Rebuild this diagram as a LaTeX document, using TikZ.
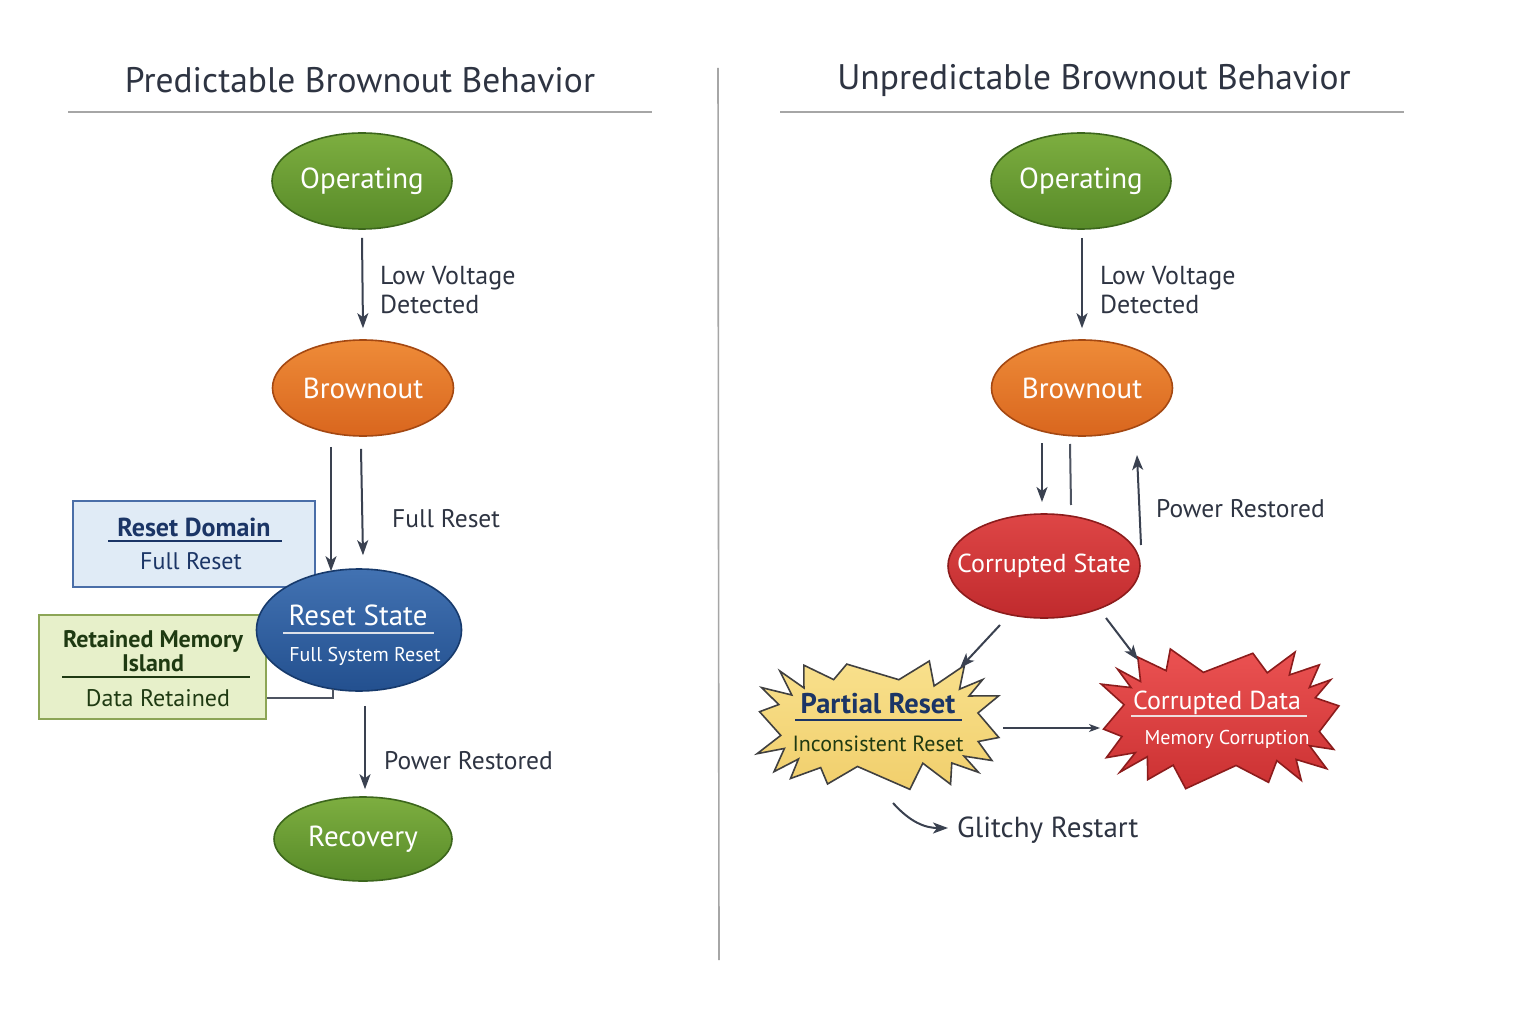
\documentclass[tikz,border=0pt]{standalone}
\usepackage{fontspec}
\setmainfont{PT Sans}
\usetikzlibrary{shapes.geometric,arrows.meta,calc}
\definecolor{ink}{HTML}{2E3442}
\definecolor{arrowc}{HTML}{3A4150}
\definecolor{gtop}{HTML}{7DAE40}\definecolor{gbot}{HTML}{578A28}\definecolor{gbrd}{HTML}{3C661C}
\definecolor{otop}{HTML}{EE8B38}\definecolor{obot}{HTML}{D9661E}\definecolor{obrd}{HTML}{A44812}
\definecolor{btop}{HTML}{4272B2}\definecolor{bbot}{HTML}{23508F}\definecolor{bbrd}{HTML}{173A6C}
\definecolor{rtop}{HTML}{DE4646}\definecolor{rbot}{HTML}{C02A2D}\definecolor{rbrd}{HTML}{8C1C1C}
\definecolor{ytop}{HTML}{F8E08C}\definecolor{ybot}{HTML}{F1CF6C}
\definecolor{cdtop}{HTML}{EB5252}\definecolor{cdbot}{HTML}{CB3132}
\definecolor{rdfill}{HTML}{E0EBF6}\definecolor{rdbrd}{HTML}{4A6EA8}
\definecolor{rmfill}{HTML}{E7F0CA}\definecolor{rmbrd}{HTML}{8CA556}
\definecolor{navy}{HTML}{1B3566}\definecolor{dgreen}{HTML}{1F3A12}
\begin{document}
\begin{tikzpicture}[x=1pt,y=-1pt,
  title/.style={text=ink,font=\fontsize{35.5}{38}\selectfont},
  rulel/.style={draw=black!35,line width=1.4pt},
  st/.style={ellipse,inner sep=0pt,line width=1.6pt},
  stt/.style={text=white,font=\fontsize{29}{32}\selectfont,inner sep=0pt},
  stgreen/.style={st,draw=gbrd,top color=gtop,bottom color=gbot},
  storange/.style={st,draw=obrd,top color=otop,bottom color=obot},
  stblue/.style={st,draw=bbrd,top color=btop,bottom color=bbot},
  stred/.style={st,draw=rbrd,top color=rtop,bottom color=rbot},
  lbl/.style={text=ink,font=\fontsize{25.5}{29}\selectfont,align=left,anchor=west,inner sep=0pt},
  arr/.style={draw=arrowc,line width=2pt,-{Stealth[length=15pt,width=11pt,inset=4pt]}},
  thinarr/.style={draw=arrowc,line width=1.3pt,-{Stealth[length=11pt,width=8pt,inset=3pt]}},
  conn/.style={draw=arrowc!90,line width=1.8pt},
  boxn/.style={rectangle,inner sep=0pt,line width=1.8pt},
  anchorell/.style={ellipse,inner sep=0pt},
  burstline/.style={line width=1.6pt,line join=miter},
  inrule/.style={line width=1.4pt},
]
\useasboundingbox[fill=white] (0,0) rectangle (1536,1024);

% ---------- titles and rules ----------
\node[title] (t1) at (360,80) {Predictable Brownout Behavior};
\node[title] (t2) at (1094,80) {Unpredictable Brownout Behavior};
\draw[rulel] (68,112) -- (652,112);
\draw[rulel] (780,112) -- (1404,112);
\draw[draw=black!35,line width=1.6pt] (718,68) -- (719,960);

% ---------- left side ----------
\node[stgreen,minimum width=180pt,minimum height=96pt,label={[stt]center:Operating}] (op1) at (362,181) {};
\node[storange,minimum width=181pt,minimum height=96pt,label={[stt]center:Brownout}] (bo1) at (363,388) {};
\draw[arr] ($(op1.south)+(0,8)$) -- ($(bo1.north)+(0,-11)$);
\node[lbl,font=\fontsize{26}{29}\selectfont] (l1) at (380,290) {Low Voltage\\Detected};

\node[boxn,draw=rdbrd,fill=rdfill,minimum width=242pt,minimum height=86pt] (rd) at (194,544) {};
\node[text=navy,font=\bfseries\fontsize{26}{28}\selectfont] (rdt) at (194,527) {Reset Domain};
\draw[inrule,draw=navy] (108,541) -- (282,541);
\node[text=navy,font=\fontsize{24}{26}\selectfont] (rds) at (191,561) {Full Reset};

\node[boxn,draw=rmbrd,fill=rmfill,minimum width=227pt,minimum height=104pt] (rm) at (152.5,667) {};
\node[text=dgreen,font=\bfseries\fontsize{24}{24}\selectfont,align=center] (rmt) at (153,651) {Retained Memory\\Island};
\draw[inrule,draw=dgreen] (62,677) -- (250,677);
\node[text=dgreen,font=\fontsize{24}{26}\selectfont] (rms) at (158,698) {Data Retained};

\node[stblue,minimum width=205pt,minimum height=122pt] (rs1) at (359,630) {};
\node[text=white,font=\fontsize{29}{32}\selectfont] (rst) at (358,615) {Reset State};
\draw[inrule,draw=white!85!bbrd] (283,633) -- (434,633);
\node[text=white,font=\fontsize{20}{22}\selectfont] (rss) at (365,656) {Full System Reset};

\draw[conn] ($(rm.south east)+(0,-22)$) -| ($(rs1.south)+(-26,-3)$);

\draw[arr] ($(bo1.south)+(-32,10)$) -- ($(rs1.north)+(-28,3)$);
\draw[arr] ($(bo1.south)+(-2,12)$) -- ($(rs1.north)+(4,-13)$);
\node[lbl] (l2) at (392,519) {Full Reset};

\node[stgreen,minimum width=178pt,minimum height=84pt,label={[stt]center:Recovery}] (rc1) at (363,839) {};
\draw[arr] ($(rs1.south)+(6,14)$) -- ($(rc1.north)+(2,-7)$);
\node[lbl] (l3) at (384,761) {Power Restored};

% ---------- right side ----------
\node[stgreen,minimum width=180pt,minimum height=96pt,label={[stt]center:Operating}] (op2) at (1081,181) {};
\node[storange,minimum width=181pt,minimum height=96pt,label={[stt]center:Brownout}] (bo2) at (1082,388) {};
\draw[arr] ($(op2.south)+(1,8)$) -- ($(bo2.north)+(0,-11)$);
\node[lbl,font=\fontsize{26}{29}\selectfont] (l4) at (1100,290) {Low Voltage\\Detected};

\node[stred,minimum width=192pt,minimum height=104pt,label={[stt,font=\fontsize{26}{28}\selectfont]center:Corrupted State}] (cs) at (1044,566) {};
\draw[arr] ($(bo2)+(-40,55)$) -- ($(cs)+(-2,-64)$);
\draw[conn,line width=2pt] ($(bo2)+(-12,56)$) -- ($(cs)+(27,-61)$);
\draw[arr] ($(cs)+(97,-21)$) -- ($(bo2)+(55,67)$);
\node[lbl] (l5) at (1156,509) {Power Restored};

% Partial Reset starburst (boxy superellipse)
\node[anchorell,minimum width=242pt,minimum height=126pt] (pr) at (878,724) {};
\draw[burstline,shift={(pr.center)},draw=black!75,top color=ytop,bottom color=ybot]
  plot[samples at={0,...,35}] ({(121-22*mod(\x,2)+3*sin(\x*97))*sign(cos(\x*10+4))*pow(abs(cos(\x*10+4)),0.6)},{(63-20*mod(\x,2)+3*cos(\x*131))*sign(sin(\x*10+4))*pow(abs(sin(\x*10+4)),0.6)}) -- cycle;
\node[text=navy,font=\bfseries\fontsize{28.5}{30}\selectfont] (prt) at (878,704) {Partial Reset};
\draw[inrule,draw=navy] (795,720) -- (962,720);
\node[text=dgreen,font=\fontsize{22}{24}\selectfont] (prs) at (878,744) {Inconsistent Reset};

% Corrupted Data starburst
\node[anchorell,minimum width=240pt,minimum height=138pt] (cd) at (1220,718) {};
\draw[burstline,shift={(cd.center)},draw=rbrd,top color=cdtop,bottom color=cdbot]
  plot[samples at={0,...,35}] ({(119-22*mod(\x,2)+3*sin(\x*113))*sign(cos(\x*10-3))*pow(abs(cos(\x*10-3)),0.6)},{(68-21*mod(\x,2)+3*cos(\x*71))*sign(sin(\x*10-3))*pow(abs(sin(\x*10-3)),0.6)}) -- cycle;
\node[text=white,font=\fontsize{26}{28}\selectfont] (cdt) at (1217,703) {Corrupted Data};
\draw[inrule,draw=white!85!rbrd] (1131,716) -- (1307,716);
\node[text=white,font=\fontsize{20}{22}\selectfont] (cds) at (1227,739) {Memory Corruption};

\draw[arr] ($(cs)+(-44,59)$) -- ($(pr)+(82,-56)$);
\draw[arr] ($(cs)+(62,52)$) -- ($(cd)+(-82,-58)$);
\draw[thinarr] ($(pr)+(125,4)$) -- ($(cd)+(-120,10)$);

\node[lbl,font=\fontsize{29}{32}\selectfont] (gr) at (957,830) {Glitchy Restart};
\draw[arr] ($(pr)+(15,79)$) .. controls (910,822) and (925,828) .. ($(gr.west)+(-9,-2)$);
\end{tikzpicture}
\end{document}
